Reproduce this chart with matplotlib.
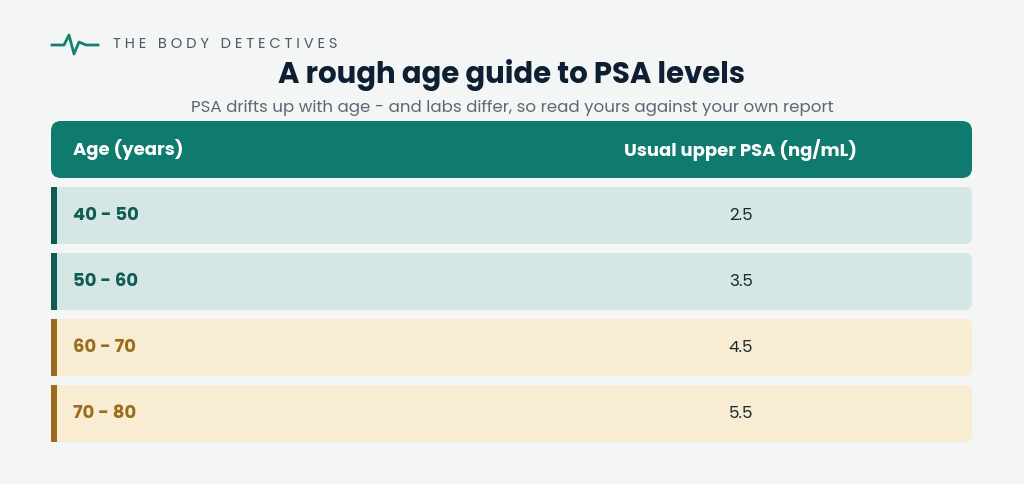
import matplotlib.pyplot as plt
from matplotlib.patches import FancyBboxPatch, Rectangle

ages = ["40 - 50", "50 - 60", "60 - 70", "70 - 80"]
psa_upper = ["2.5", "3.5", "4.5", "5.5"]
groups = ["teal", "teal", "gold", "gold"]

plt.rcParams['font.family'] = ['Poppins', 'Lato', 'DejaVu Sans']

fig = plt.figure(figsize=(10.24, 4.84), dpi=100)
fig.patch.set_facecolor('#f3f6f5')
ax = fig.add_axes([0, 0, 1, 1])
ax.set_xlim(0, 1024)
ax.set_ylim(484, 0)
ax.axis('off')

# logo
ax.plot([52, 64, 69, 74, 79, 86, 98], [45, 45, 35, 54, 42, 45, 45], color='#15806f', lw=2)
ax.text(113, 45, "T H E   B O D Y   D E T E C T I V E S", fontsize=10.5, color='#4d5a66',
        va='center', ha='left')

ax.text(512, 75, "A rough age guide to PSA levels", fontsize=21, fontweight='bold',
        color='#0f1f33', ha='center', va='center')
ax.text(512, 108, "PSA drifts up with age - and labs differ, so read yours against your own report",
        fontsize=12, color='#5d6873', ha='center', va='center')

x0, x1 = 51, 972
col2 = 741

# header
ax.add_patch(FancyBboxPatch((x0, 121), x1 - x0, 57, boxstyle="round,pad=0,rounding_size=10",
                            fc='#0f7a6e', ec='none', mutation_aspect=1))
ax.text(73, 150, "Age (years)", fontsize=13, fontweight='bold', color='white', va='center')
ax.text(col2, 150, "Usual upper PSA (ng/mL)", fontsize=13, fontweight='bold', color='white',
        va='center', ha='center')

styles = {
    "teal": dict(fill='#d5e7e4', bar='#0e5c52', text='#0e5c52'),
    "gold": dict(fill='#f8edd3', bar='#9c6c1e', text='#9c6c1e'),
}
row_top = 187
row_h = 57
gap = 9
for i, (age, val, g) in enumerate(zip(ages, psa_upper, groups)):
    s = styles[g]
    y = row_top + i * (row_h + gap)
    ax.add_patch(FancyBboxPatch((x0, y), x1 - x0, row_h, boxstyle="round,pad=0,rounding_size=7",
                                fc=s['fill'], ec='none'))
    ax.add_patch(Rectangle((x0, y), 6, row_h, fc=s['bar'], ec='none'))
    ax.text(73, y + row_h / 2 + 1, age, fontsize=13, fontweight='bold', color=s['text'], va='center')
    ax.text(col2, y + row_h / 2 + 1, val, fontsize=12, color='#1c2a36', va='center', ha='center')

fig.savefig("out.png", dpi=100, facecolor=fig.get_facecolor())
